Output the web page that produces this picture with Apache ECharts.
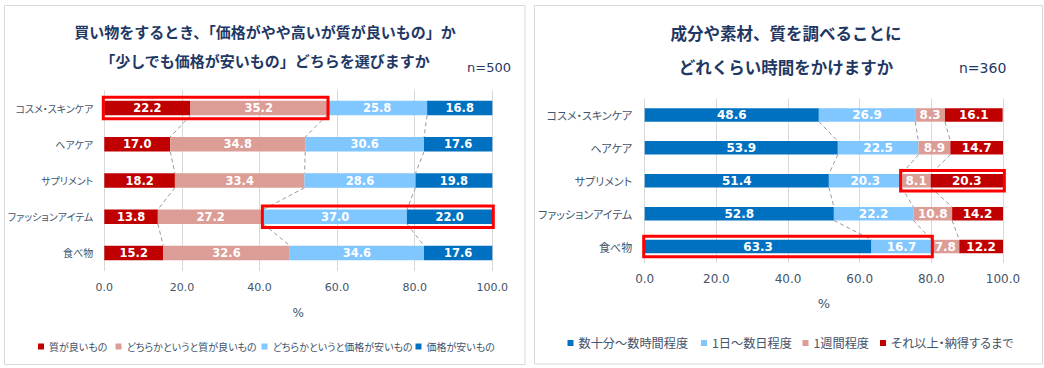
<!DOCTYPE html>
<html>
<head>
<meta charset="utf-8">
<script src="https://cdn.jsdelivr.net/npm/echarts@6/dist/echarts.min.js"></script>
<style>
html,body{margin:0;padding:0;background:#fff;}
#chart{width:1044px;height:368px;}
#chart text[style*="JPUI"], #chart text[font-family*="JPUI"]{font-feature-settings:"palt" !important;}
</style>
</head>
<body>
<div id="chart"></div>
<script>
// ---- data ----
const categories = ['コスメ・スキンケア', 'ヘアケア', 'サプリメント', 'ファッションアイテム', '食べ物'];

const leftTitle = '買い物をするとき、「価格がやや高いが質が良いもの」か\n「少しでも価格が安いもの」どちらを選びますか';
const leftN = 'n=500';
const leftSeriesNames = ['質が良いもの', 'どちらかというと質が良いもの', 'どちらかというと価格が安いもの', '価格が安いもの'];
const leftQuality = [22.2, 17.0, 18.2, 13.8, 15.2];
const leftRatherQuality = [35.2, 34.8, 33.4, 27.2, 32.6];
const leftRatherPrice = [25.8, 30.6, 28.6, 37.0, 34.6];
const leftPrice = [16.8, 17.6, 19.8, 22.0, 17.6];

const rightTitle = '成分や素材、質を調べることに\nどれくらい時間をかけますか';
const rightN = 'n=360';
const rightSeriesNames = ['数十分～数時間程度', '1日～数日程度', '1週間程度', 'それ以上・納得するまで'];
const rightHours = [48.6, 53.9, 51.4, 52.8, 63.3];
const rightDays = [26.9, 22.5, 20.3, 22.2, 16.7];
const rightWeek = [8.3, 8.9, 8.1, 10.8, 7.8];
const rightLonger = [16.1, 14.7, 20.3, 14.2, 12.2];

const xMin = 0, xMax = 100, xInterval = 20;
const axisName = '%';

// highlighted (red-boxed) segment ranges: panel, category index, first/last series index
const highlights = [
  {panel: 0, category: 0, from: 0, to: 1},
  {panel: 0, category: 3, from: 2, to: 3},
  {panel: 1, category: 2, from: 2, to: 3},
  {panel: 1, category: 4, from: 0, to: 1}
];

// ---- styles / layout ----
const JP = 'Noto Sans CJK JP';
const JPP = 'Noto Sans CJK JP, JPUI';
const NUM = 'DejaVu Sans';
const navy = '#1f3864';
const textGray = '#44546a';

const panels = [
  {
    title: leftTitle, n: leftN,
    names: leftSeriesNames,
    values: [leftQuality, leftRatherQuality, leftRatherPrice, leftPrice],
    colors: ['#c00000', '#dc9d96', '#80c6ff', '#0070c0'],
    grid: {left: 104.3, top: 90, width: 388, height: 181},
    barWidth: 14.5, labelSize: 11.5, tickSize: 11, catSize: 10, catMargin: 11, tickMargin: 11,
    nameGap: 36, nameSize: 12,
    titleX: 265, titleTop: 17, titleSize: 15, titleLH: 29.3,
    nX: 467, nTop: 61, nSize: 13,
    legendX: [38, 115.5, 261.5, 415.5], legendTop: 341.5, legendSize: 10,
    border: {x: 4.5, y: 5.5, width: 520.5, height: 359}
  },
  {
    title: rightTitle, n: rightN,
    names: rightSeriesNames,
    values: [rightHours, rightDays, rightWeek, rightLonger],
    colors: ['#0070c0', '#80c6ff', '#dc9d96', '#c00000'],
    grid: {left: 644.7, top: 98.5, width: 358.3, height: 164.5},
    barWidth: 13.5, labelSize: 12, tickSize: 12, catSize: 11, catMargin: 12.5, tickMargin: 10,
    nameGap: 34, nameSize: 13,
    titleX: 786, titleTop: 16.6, titleSize: 16.5, titleLH: 33.4,
    nX: 959, nTop: 61, nSize: 14,
    legendX: [567.5, 701, 802.5, 880], legendTop: 336.9, legendSize: 12.2,
    border: {x: 534.5, y: 5.5, width: 508, height: 358.5}
  }
];

const option = {
  backgroundColor: '#ffffff',
  animation: false,
  title: [], grid: [], xAxis: [], yAxis: [], series: [], legend: [],
  graphic: []
};

panels.forEach((p, pi) => {
  option.title.push({
    text: p.title, left: p.titleX, top: p.titleTop, textAlign: 'center', padding: 0,
    textStyle: {fontFamily: JP, fontSize: p.titleSize, fontWeight: 'bold', color: navy, lineHeight: p.titleLH}
  });
  option.title.push({
    text: p.n, left: p.nX, top: p.nTop, padding: 0,
    textStyle: {fontFamily: NUM, fontSize: p.nSize, fontWeight: 'normal', color: navy}
  });
  option.grid.push(Object.assign({containLabel: false, outerBoundsMode: 'none'}, p.grid));
  option.xAxis.push({
    gridIndex: pi, type: 'value', min: xMin, max: xMax, interval: xInterval,
    axisLine: {show: false}, axisTick: {show: false},
    splitLine: {show: true, lineStyle: {color: '#d9d9d9', width: 1}},
    axisLabel: {color: textGray, fontFamily: NUM, fontSize: p.tickSize, margin: p.tickMargin,
      formatter: v => v.toFixed(1)},
    name: axisName, nameLocation: 'middle', nameGap: p.nameGap,
    nameTextStyle: {color: textGray, fontFamily: NUM, fontSize: p.nameSize}
  });
  option.yAxis.push({
    gridIndex: pi, type: 'category', data: categories, inverse: true,
    axisLine: {show: false}, axisTick: {show: false}, splitLine: {show: false},
    axisLabel: {color: textGray, fontFamily: JPP, fontSize: p.catSize, margin: p.catMargin}
  });
  p.names.forEach((name, si) => {
    option.series.push({
      name: name, type: 'bar', stack: 'panel' + pi,
      xAxisIndex: pi, yAxisIndex: pi,
      barWidth: p.barWidth,
      data: p.values[si],
      itemStyle: {color: p.colors[si]},
      label: {show: true, position: 'inside', color: '#ffffff', fontWeight: 'bold',
        fontFamily: NUM, fontSize: p.labelSize, formatter: q => Number(q.value).toFixed(1)},
      emphasis: {disabled: true}
    });
    option.legend.push({
      data: [name], left: p.legendX[si], top: p.legendTop, padding: 0,
      icon: 'rect', itemWidth: 6, itemHeight: 6, itemGap: 0,
      textStyle: {color: textGray, fontFamily: JPP, fontSize: p.legendSize}
    });
  });
  option.graphic.push({
    type: 'rect', silent: true, z: -5,
    shape: p.border,
    style: {fill: 'none', stroke: '#d9d9d9', lineWidth: 1}
  });
});

const chart = echarts.init(document.getElementById('chart'), null, {renderer: 'svg', width: 1044, height: 368});
chart.setOption(option);

// ---- series lines and highlight boxes, computed through the axes ----
function cumulative(values) {
  const n = values[0].length;
  const cum = [new Array(n).fill(0)];
  values.forEach((arr, k) => cum.push(arr.map((v, i) => cum[k][i] + v)));
  return cum;
}
const extra = [];
panels.forEach((p, pi) => {
  const cum = cumulative(p.values);
  const half = p.barWidth / 2;
  for (let k = 1; k < p.values.length; k++) {
    for (let i = 0; i < categories.length - 1; i++) {
      const a = chart.convertToPixel({gridIndex: pi}, [cum[k][i], i]);
      const b = chart.convertToPixel({gridIndex: pi}, [cum[k][i + 1], i + 1]);
      extra.push({
        type: 'line', silent: true, z: 5,
        shape: {x1: a[0], y1: a[1] + half, x2: b[0], y2: b[1] - half},
        style: {stroke: '#9a9a9a', lineWidth: 1, lineDash: [4, 3]}
      });
    }
  }
  highlights.filter(h => h.panel === pi).forEach(h => {
    const s = chart.convertToPixel({gridIndex: pi}, [cum[h.from][h.category], h.category]);
    const e = chart.convertToPixel({gridIndex: pi}, [cum[h.to + 1][h.category], h.category]);
    const padX = 1, padY = 3.5;
    extra.push({
      type: 'rect', silent: true, z: 20,
      shape: {x: s[0] - padX, y: s[1] - half - padY, width: e[0] - s[0] + 2 * padX, height: p.barWidth + 2 * padY},
      style: {fill: 'none', stroke: '#ff0000', lineWidth: 3}
    });
  });
});
chart.setOption({graphic: option.graphic.concat(extra)});
</script>
</body>
</html>
